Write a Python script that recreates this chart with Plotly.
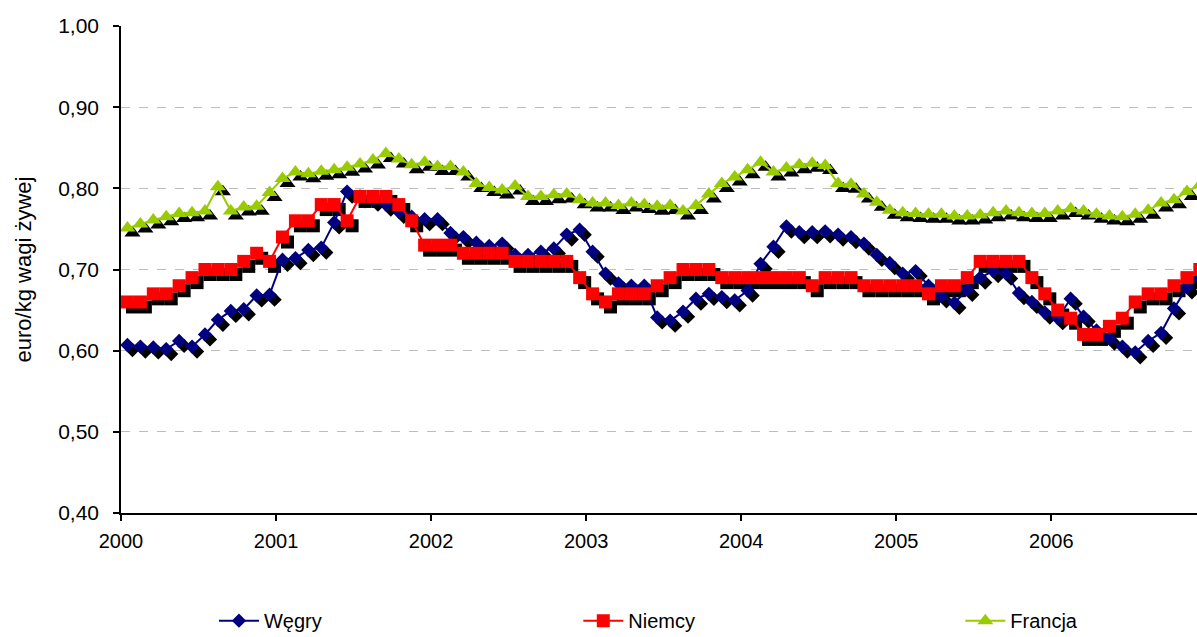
import numpy as np
import plotly.graph_objects as go

# ---------------- data (monthly, Jan 2000 - Dec 2006) ----------------
years = ["2000", "2001", "2002", "2003", "2004", "2005", "2006"]

wegry = [
    0.607, 0.605, 0.604, 0.602, 0.612, 0.605, 0.620, 0.638, 0.649, 0.651, 0.668, 0.669,
    0.712, 0.714, 0.724, 0.727, 0.758, 0.796, 0.790, 0.786, 0.780, 0.771, 0.765, 0.762,
    0.762, 0.745, 0.740, 0.733, 0.729, 0.732, 0.718, 0.718, 0.722, 0.726, 0.743, 0.749,
    0.722, 0.695, 0.683, 0.680, 0.680, 0.641, 0.637, 0.648, 0.664, 0.670, 0.666, 0.662,
    0.674, 0.707, 0.728, 0.753, 0.746, 0.746, 0.747, 0.743, 0.740, 0.732, 0.718, 0.708,
    0.695, 0.698, 0.680, 0.667, 0.659, 0.675, 0.690, 0.698, 0.695, 0.671, 0.660, 0.647,
    0.640, 0.664, 0.642, 0.625, 0.615, 0.605, 0.598, 0.612, 0.622, 0.652, 0.678, 0.690,
]

niemcy = [
    0.66, 0.66, 0.67, 0.67, 0.68, 0.69, 0.70, 0.70, 0.70, 0.71, 0.72, 0.71,
    0.74, 0.76, 0.76, 0.78, 0.78, 0.76, 0.79, 0.79, 0.79, 0.78, 0.76, 0.73,
    0.73, 0.73, 0.72, 0.72, 0.72, 0.72, 0.71, 0.71, 0.71, 0.71, 0.71, 0.69,
    0.67, 0.66, 0.67, 0.67, 0.67, 0.68, 0.69, 0.70, 0.70, 0.70, 0.69, 0.69,
    0.69, 0.69, 0.69, 0.69, 0.69, 0.68, 0.69, 0.69, 0.69, 0.68, 0.68, 0.68,
    0.68, 0.68, 0.67, 0.68, 0.68, 0.69, 0.71, 0.71, 0.71, 0.71, 0.69, 0.67,
    0.65, 0.64, 0.62, 0.62, 0.63, 0.64, 0.66, 0.67, 0.67, 0.68, 0.69, 0.70,
]

francja = [
    0.751, 0.756, 0.761, 0.765, 0.769, 0.770, 0.772, 0.802, 0.772, 0.777, 0.778, 0.795,
    0.812, 0.820, 0.818, 0.821, 0.823, 0.826, 0.830, 0.835, 0.843, 0.836, 0.829, 0.832,
    0.827, 0.827, 0.820, 0.806, 0.801, 0.798, 0.803, 0.790, 0.790, 0.792, 0.793, 0.786,
    0.782, 0.782, 0.779, 0.782, 0.780, 0.778, 0.779, 0.772, 0.779, 0.793, 0.806, 0.814,
    0.823, 0.832, 0.820, 0.825, 0.829, 0.831, 0.828, 0.806, 0.805, 0.793, 0.783, 0.773,
    0.770, 0.769, 0.768, 0.768, 0.766, 0.766, 0.767, 0.770, 0.772, 0.770, 0.769, 0.769,
    0.772, 0.775, 0.772, 0.768, 0.766, 0.765, 0.768, 0.773, 0.782, 0.786, 0.796, 0.804,
]

series_names = ["Węgry", "Niemcy", "Francja"]

# ---------------- styling ----------------
W, H = 1197, 637
ML, MR, MT, MB = 121, 0, 26, 124
X_MAX = 83.28          # axis end (months from Jan 2000)
Y_MIN, Y_MAX = 0.40, 1.00
SHADOW_DX_PX, SHADOW_DY_PX = 5, 5

plot_w = W - ML - MR
plot_h = H - MT - MB
dx = SHADOW_DX_PX * X_MAX / plot_w
dy = SHADOW_DY_PX * (Y_MAX - Y_MIN) / plot_h

x = np.arange(len(wegry)) + 0.5   # mid-month positions
tickvals = [12 * k for k in range(len(years))]

styles = [
    dict(color="#000080", symbol="diamond", size=11),
    dict(color="#FF0000", symbol="square", size=13),
    dict(color="#99CC00", symbol="triangle-up", size=14),
]
data = [wegry, niemcy, francja]
legend_ids = ["legend", "legend2", "legend3"]
legend_x = [0.0864, 0.425, 0.780]

fig = go.Figure()

# shadows (base axes, shifted range)
for vals, st in zip(data, styles):
    fig.add_trace(go.Scatter(
        x=x, y=vals, mode="markers", xaxis="x", yaxis="y",
        marker=dict(symbol=st["symbol"], size=st["size"], color="black",
                    line=dict(width=0)),
        showlegend=False, hoverinfo="skip",
    ))

# main series (overlay axes with the real scale)
for name, vals, st, lg in zip(series_names, data, styles, legend_ids):
    fig.add_trace(go.Scatter(
        x=x, y=vals, name=name, mode="lines+markers", xaxis="x2", yaxis="y2",
        line=dict(color=st["color"], width=2),
        marker=dict(symbol=st["symbol"], size=st["size"], color=st["color"],
                    line=dict(width=0)),
        legend=lg,
    ))

font_family = "Liberation Sans, Arial, sans-serif"

legend_common = dict(
    orientation="h", xanchor="left", y=-0.221, yanchor="middle",
    font=dict(family=font_family, size=20, color="black"),
    bgcolor="rgba(0,0,0,0)", itemwidth=40,
)

fig.update_layout(
    width=W, height=H,
    margin=dict(l=ML, r=MR, t=MT, b=MB, autoexpand=False),
    paper_bgcolor="white", plot_bgcolor="white",
    separators=", ",
    font=dict(family=font_family, size=20, color="black"),
    xaxis=dict(range=[-dx, X_MAX - dx], visible=False, showgrid=False, zeroline=False),
    yaxis=dict(range=[Y_MIN + dy, Y_MAX + dy], visible=False, showgrid=False, zeroline=False),
    xaxis2=dict(
        overlaying="x", anchor="y2", range=[0, X_MAX],
        tickmode="array", tickvals=tickvals, ticktext=years,
        showline=True, linecolor="black", linewidth=1.5,
        ticks="outside", ticklen=6, tickwidth=1.5, tickcolor="black",
        ticklabelstandoff=3,
        showgrid=False, zeroline=False,
        tickfont=dict(family=font_family, size=20, color="black"),
    ),
    yaxis2=dict(
        overlaying="y", anchor="x2", side="left", range=[Y_MIN, Y_MAX],
        tickmode="linear", tick0=0.4, dtick=0.1, tickformat=".2f",
        showline=True, linecolor="black", linewidth=1.5,
        ticks="outside", ticklen=6, tickwidth=1.5, tickcolor="black",
        ticklabelstandoff=10,
        showgrid=True, gridcolor="#BDBDBD", griddash="dash", gridwidth=1,
        zeroline=False,
        tickfont=dict(family=font_family, size=21, color="black"),
        title=dict(text="euro/kg wagi żywej",
                   font=dict(family=font_family, size=22, color="black"),
                   standoff=20),
    ),
    legend=dict(x=legend_x[0], **legend_common),
    legend2=dict(x=legend_x[1], **legend_common),
    legend3=dict(x=legend_x[2], **legend_common),
)

fig.write_html(
    "out.html",
    config={"displayModeBar": False},
    post_script="document.body.style.margin='0';"
                "document.documentElement.style.overflow='hidden';",
)
